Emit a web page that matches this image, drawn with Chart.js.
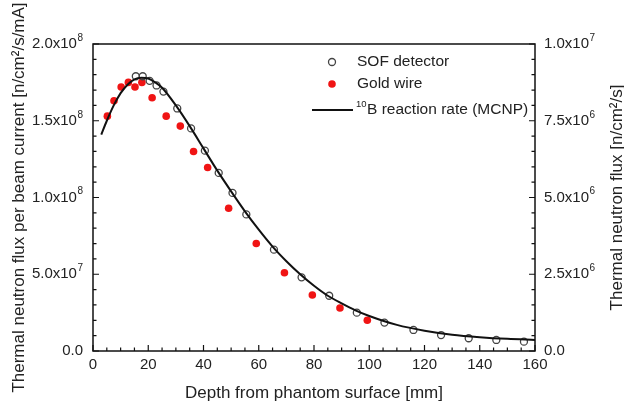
<!DOCTYPE html>
<html>
<head>
<meta charset="utf-8">
<script src="https://cdn.jsdelivr.net/npm/chart.js@4.4.0/dist/chart.umd.min.js"></script>
<style>
  html, body { margin: 0; padding: 0; background: #fff; }
  #wrap { width: 624px; height: 403px; }
</style>
</head>
<body>
<div id="wrap"><canvas id="myChart" width="624" height="403"></canvas></div>
<script>
'use strict';

// SOF detector (open circles), depth in mm, flux in units of 1e8
var sofDepth = [15.5, 18, 20.5, 23, 25.5, 30.5, 35.5, 40.5, 45.5, 50.5, 55.5, 65.5, 75.5, 85.5, 95.5, 105.5, 116, 126, 136, 146, 156];
var sofFlux = [1.79, 1.79, 1.76, 1.73, 1.69, 1.58, 1.45, 1.305, 1.16, 1.03, 0.89, 0.66, 0.48, 0.36, 0.25, 0.185, 0.137, 0.104, 0.083, 0.072, 0.061];

// Gold wire (red dots)
var goldDepth = [5.2, 7.6, 10.2, 12.8, 15.2, 17.7, 21.4, 26.5, 31.6, 36.4, 41.5, 49.1, 59.1, 69.3, 79.4, 89.4, 99.3];
var goldFlux = [1.53, 1.63, 1.72, 1.75, 1.72, 1.75, 1.65, 1.53, 1.465, 1.30, 1.195, 0.93, 0.70, 0.51, 0.365, 0.28, 0.20];

// 10B reaction rate (MCNP) curve
var mcnpDepth = [3, 5, 7.5, 10, 12.5, 15, 17.5, 20, 22.5, 25, 30, 35, 40, 45, 50, 55, 60, 65, 70, 75, 80, 85, 90, 95, 100, 110, 120, 130, 140, 150, 160];
var mcnpFlux = [1.41, 1.50, 1.60, 1.68, 1.735, 1.77, 1.78, 1.775, 1.75, 1.715, 1.60, 1.465, 1.32, 1.175, 1.04, 0.91, 0.79, 0.68, 0.585, 0.50, 0.425, 0.36, 0.31, 0.265, 0.228, 0.17, 0.132, 0.106, 0.09, 0.079, 0.072];

// tick labels, "^" marks the exponent
var leftTickLabels = ['0.0', '5.0x10^7', '1.0x10^8', '1.5x10^8', '2.0x10^8'];
var rightTickLabels = ['0.0', '2.5x10^6', '5.0x10^6', '7.5x10^6', '1.0x10^7'];

var FONT = '"Liberation Sans", Arial, "DejaVu Sans", sans-serif';
var TXT = '#222';

function pts(xs, ys) {
    return xs.map(function (x, i) { return { x: x, y: ys[i] * 1e8 }; });
}

// label with raised exponent; align 'right' or 'left' at x
function supLabel(ctx, txt, x, y, align) {
    var parts = txt.split('^');
    ctx.font = '15px ' + FONT;
    var w1 = ctx.measureText(parts[0]).width;
    var w2 = 0;
    if (parts[1]) {
        ctx.font = '10px ' + FONT;
        w2 = ctx.measureText(parts[1]).width + 0.5;
    }
    var x0 = align === 'right' ? x - w1 - w2 : x;
    ctx.textAlign = 'left';
    ctx.textBaseline = 'middle';
    ctx.font = '15px ' + FONT;
    ctx.fillText(parts[0], x0, y);
    if (parts[1]) {
        ctx.font = '10px ' + FONT;
        ctx.fillText(parts[1], x0 + w1 + 0.5, y - 6);
    }
}

var frame = {
    id: 'frame',
    afterDatasetsDraw: function (chart) {
        var ctx = chart.ctx, a = chart.chartArea, s = chart.scales;
        ctx.save();
        ctx.strokeStyle = '#111';
        ctx.lineWidth = 1.5;
        ctx.strokeRect(a.left, a.top, a.right - a.left, a.bottom - a.top);
        ctx.lineWidth = 1.2;
        ctx.beginPath();
        var v, p, len;
        for (v = 0; v <= 160; v += 5) {
            p = s.x.getPixelForValue(v);
            len = v % 20 === 0 ? 6 : 3.5;
            ctx.moveTo(p, a.bottom); ctx.lineTo(p, a.bottom - len);
        }
        for (v = 0; v <= 20; v++) {
            p = s.y.getPixelForValue(v * 1e7);
            len = v % 5 === 0 ? 6 : 3.5;
            ctx.moveTo(a.left, p); ctx.lineTo(a.left + len, p);
            p = s.y2.getPixelForValue(v * 5e5);
            ctx.moveTo(a.right, p); ctx.lineTo(a.right - len, p);
        }
        ctx.stroke();
        ctx.restore();
    },
    afterDraw: function (chart) {
        var ctx = chart.ctx, a = chart.chartArea, s = chart.scales;
        var midY = (a.top + a.bottom) / 2;
        ctx.save();
        ctx.fillStyle = TXT;

        // y tick labels
        s.y.ticks.forEach(function (t, i) {
            supLabel(ctx, leftTickLabels[i], a.left - 10, s.y.getPixelForValue(t.value), 'right');
        });
        s.y2.ticks.forEach(function (t, i) {
            supLabel(ctx, rightTickLabels[i], a.right + 9, s.y2.getPixelForValue(t.value), 'left');
        });

        ctx.font = '17px ' + FONT;
        ctx.textAlign = 'center';
        ctx.textBaseline = 'middle';
        ctx.fillText('Depth from phantom surface [mm]', (a.left + a.right) / 2, 393);

        ctx.save();
        ctx.translate(19, midY);
        ctx.rotate(-Math.PI / 2);
        ctx.fillText('Thermal neutron flux per beam current [n/cm\u00b2/s/mA]', 0, 0);
        ctx.restore();

        ctx.save();
        ctx.translate(617, midY);
        ctx.rotate(-Math.PI / 2);
        ctx.fillText('Thermal neutron flux [n/cm\u00b2/s]', 0, 0);
        ctx.restore();

        // legend
        ctx.textAlign = 'left';
        ctx.font = '15.5px ' + FONT;
        ctx.beginPath();
        ctx.arc(332, 62, 3.5, 0, Math.PI * 2);
        ctx.strokeStyle = '#444';
        ctx.lineWidth = 1.3;
        ctx.stroke();
        ctx.fillText('SOF detector', 357, 62);

        ctx.beginPath();
        ctx.arc(332, 84, 3.8, 0, Math.PI * 2);
        ctx.fillStyle = '#f01414';
        ctx.fill();
        ctx.fillStyle = TXT;
        ctx.fillText('Gold wire', 357, 84);

        ctx.beginPath();
        ctx.moveTo(312, 110); ctx.lineTo(353, 110);
        ctx.strokeStyle = '#111';
        ctx.lineWidth = 2;
        ctx.stroke();
        ctx.font = '9.5px ' + FONT;
        ctx.fillText('10', 356, 104);
        var w = ctx.measureText('10').width;
        ctx.font = '15.5px ' + FONT;
        ctx.fillText('B reaction rate (MCNP)', 356 + w + 0.5, 110);
        ctx.restore();
    }
};

var tickFont = { family: FONT, size: 15 };

new Chart(document.getElementById('myChart'), {
    type: 'scatter',
    data: {
        datasets: [{
            label: '10B reaction rate (MCNP)',
            data: pts(mcnpDepth, mcnpFlux),
            showLine: true,
            borderColor: '#111',
            borderWidth: 2,
            pointRadius: 0,
            cubicInterpolationMode: 'monotone',
            fill: false
        }, {
            label: 'SOF detector',
            data: pts(sofDepth, sofFlux),
            pointStyle: 'circle',
            pointRadius: 3.5,
            pointBorderWidth: 1.3,
            borderColor: '#444',
            backgroundColor: 'rgba(0,0,0,0)'
        }, {
            label: 'Gold wire',
            data: pts(goldDepth, goldFlux),
            pointStyle: 'circle',
            pointRadius: 3.8,
            pointBorderWidth: 0,
            borderColor: '#f01414',
            backgroundColor: '#f01414'
        }]
    },
    options: {
        responsive: false,
        animation: false,
        layout: {
            padding: { top: 44, left: 0, right: 0, bottom: 0 }
        },
        plugins: {
            legend: { display: false },
            tooltip: { enabled: false }
        },
        scales: {
            x: {
                type: 'linear',
                position: 'bottom',
                min: 0,
                max: 160,
                grid: { display: false, drawTicks: false },
                border: { display: false },
                ticks: { stepSize: 20, padding: 5, color: TXT, font: tickFont, maxRotation: 0 },
                afterFit: function (s) { s.height = 52; }
            },
            y: {
                type: 'linear',
                position: 'left',
                min: 0,
                max: 2e8,
                grid: { display: false, drawTicks: false },
                border: { display: false },
                ticks: { stepSize: 5e7, display: false },
                afterFit: function (s) { s.width = 93; }
            },
            y2: {
                type: 'linear',
                position: 'right',
                min: 0,
                max: 1e7,
                grid: { display: false, drawTicks: false },
                border: { display: false },
                ticks: { stepSize: 2.5e6, display: false },
                afterFit: function (s) { s.width = 89; }
            }
        }
    },
    plugins: [frame]
});
</script>
</body>
</html>
